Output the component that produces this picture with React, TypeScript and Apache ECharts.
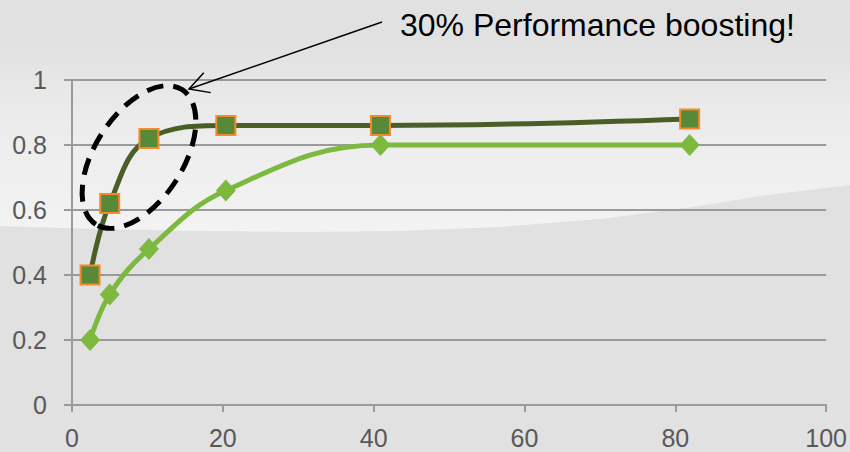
import React, { useEffect, useRef } from "react";
import * as echarts from "echarts";

const xTicks = [0, 20, 40, 60, 80, 100];
const yTicks = [0, 0.2, 0.4, 0.6, 0.8, 1];
const xDark = [2.4, 5.0, 10.2, 20.4, 40.9, 81.9];
const yDark = [0.40, 0.62, 0.82, 0.86, 0.86, 0.88];
const xLight = [2.4, 5.0, 10.2, 20.4, 40.9, 81.9];
const yLight = [0.20, 0.34, 0.48, 0.66, 0.80, 0.80];
const annotation = "30% Performance boosting!";

export default function App() {
  const ref = useRef<HTMLDivElement>(null);
  useEffect(() => {
    const chart = echarts.init(ref.current!, null, { renderer: "svg" });
    const tip = [189, 89];
    const tail = [382, 22];
    const ang = Math.atan2(tail[1] - tip[1], tail[0] - tip[0]);
    const wl = 22, wa = 0.5;
    const w1 = [tip[0] + wl * Math.cos(ang + wa), tip[1] + wl * Math.sin(ang + wa)];
    const w2 = [tip[0] + wl * Math.cos(ang - wa), tip[1] + wl * Math.sin(ang - wa)];
    const labelFont = "'Liberation Sans', Arial, sans-serif";
    chart.setOption({
      animation: false,
      backgroundColor: "#e1e1e1",
      grid: { left: 72, right: 22, top: 80, bottom: 47 },
      xAxis: {
        type: "value",
        min: xTicks[0],
        max: xTicks[xTicks.length - 1],
        interval: 20,
        axisLine: { show: true, onZero: false, lineStyle: { color: "#9a9a9a", width: 2 } },
        axisTick: { show: true, inside: false, length: 7, lineStyle: { color: "#9a9a9a", width: 2 } },
        splitLine: { show: false },
        axisLabel: { color: "#595959", fontSize: 25, fontFamily: labelFont, margin: 20 },
      },
      yAxis: {
        type: "value",
        min: yTicks[0],
        max: yTicks[yTicks.length - 1],
        interval: 0.2,
        axisLine: { show: true, lineStyle: { color: "#9a9a9a", width: 2 } },
        axisTick: { show: true, length: 8, lineStyle: { color: "#9a9a9a", width: 2 } },
        splitLine: { show: true, lineStyle: { color: "#9a9a9a", width: 2 } },
        axisLabel: { color: "#595959", fontSize: 25, fontFamily: labelFont, margin: 25 },
      },
      series: [
        {
          type: "line",
          data: xLight.map((x, i) => [x, yLight[i]]),
          smooth: 0.4,
          symbol: "diamond",
          symbolSize: [20, 22],
          lineStyle: { color: "#7cb93e", width: 5 },
          itemStyle: { color: "#7cb93e", borderWidth: 0 },
          z: 3,
        },
        {
          type: "line",
          data: xDark.map((x, i) => [x, yDark[i]]),
          smooth: 0.4,
          symbol: "rect",
          symbolSize: 19,
          lineStyle: { color: "#4a5e28", width: 5 },
          itemStyle: { color: "#568a38", borderColor: "#f68a2a", borderWidth: 2 },
          z: 4,
        },
      ],
      graphic: [
        {
          type: "polygon",
          z: -10,
          silent: true,
          shape: {
            points: [
              [0, 40], [850, 40], [850, 185], [760, 196], [700, 206], [600, 219],
              [500, 227], [400, 231], [300, 232], [200, 231], [100, 229], [0, 226],
            ],
          },
          style: {
            fill: {
              type: "linear", x: 0, y: 0, x2: 0, y2: 1,
              colorStops: [
                { offset: 0, color: "rgba(255,255,255,0)" },
                { offset: 0.4, color: "rgba(255,255,255,0.35)" },
                { offset: 1, color: "rgba(255,255,255,0.6)" },
              ],
            },
          },
        },
        {
          type: "ellipse",
          z: 100,
          x: 139,
          y: 157,
          rotation: 1.0,
          silent: true,
          shape: { cx: 0, cy: 0, rx: 80, ry: 44 },
          style: { fill: "none", stroke: "#000", lineWidth: 5, lineDash: [17, 10] },
        },
        {
          type: "line",
          z: 100,
          silent: true,
          shape: { x1: tail[0], y1: tail[1], x2: tip[0], y2: tip[1] },
          style: { stroke: "#000", lineWidth: 1.5 },
        },
        {
          type: "polyline",
          z: 100,
          silent: true,
          shape: { points: [w1, tip, w2] },
          style: { stroke: "#000", lineWidth: 1.5, fill: "none" },
        },
        {
          type: "text",
          z: 100,
          x: 400,
          y: 25,
          silent: true,
          style: {
            text: annotation,
            fill: "#000",
            font: "32px 'Liberation Sans', Arial, sans-serif",
            verticalAlign: "middle",
            align: "left",
          },
        },
      ],
    });
    return () => chart.dispose();
  }, []);
  return <div ref={ref} style={{ width: 850, height: 452, position: "absolute", left: 0, top: 0 }} />;
}
